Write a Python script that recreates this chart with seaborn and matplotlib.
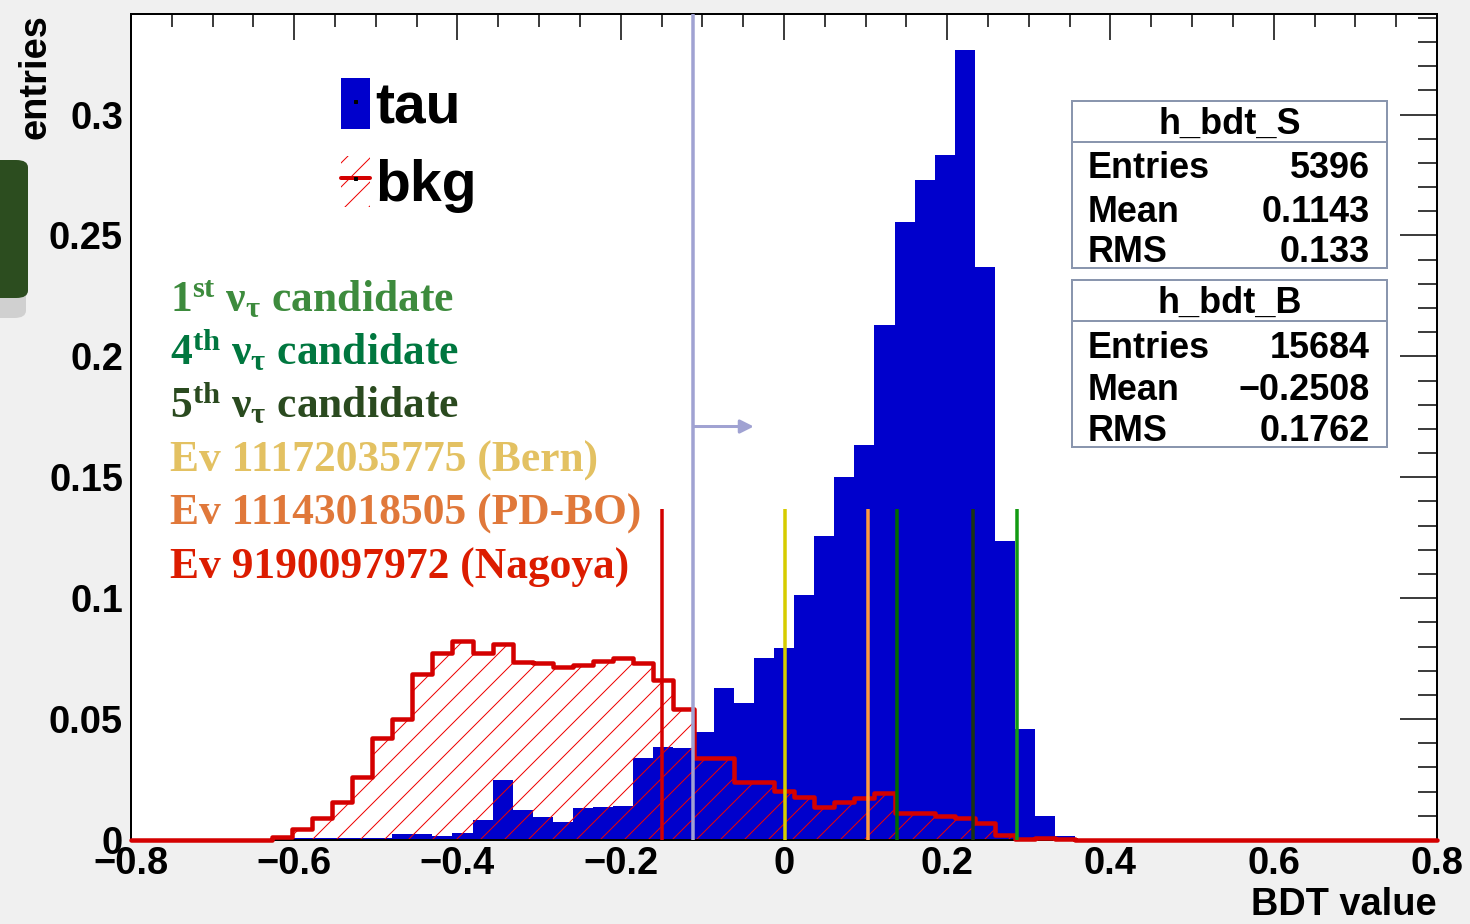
import numpy as np
import pandas as pd
import matplotlib
matplotlib.use("Agg")
import matplotlib.pyplot as plt
import seaborn as sns
from matplotlib.patches import Patch, Rectangle, FancyBboxPatch
from matplotlib.lines import Line2D

# ---------------- data ----------------
x_lo, x_hi, n_bins = -0.8, 0.8, 65

# signal (tau) bin contents, 65 bins on [-0.8, 0.8]
sig = [0, 0, 0, 0, 0, 0, 0,
       0.0008, 0.0008, 0.0008, 0.0008, 0.0008, 0.0008,
       0.0023, 0.0023, 0.0018, 0.0030, 0.0083, 0.0247, 0.0124, 0.0095, 0.0076,
       0.0131, 0.0138, 0.0141, 0.0339, 0.0385, 0.0380, 0.0446, 0.0628, 0.0566,
       0.0753, 0.0792, 0.1014, 0.1258, 0.1502, 0.1632, 0.2128, 0.2555, 0.2730,
       0.2834, 0.3266, 0.2370, 0.1235, 0.0459, 0.0101, 0.0017, 0.0005,
       0, 0, 0, 0, 0, 0, 0, 0, 0, 0, 0, 0, 0, 0, 0, 0, 0]

# background (bkg) bin contents
bkg = [0, 0, 0, 0, 0, 0, 0,
       0.0014, 0.0046, 0.0090, 0.0159, 0.0262, 0.0421, 0.0500, 0.0687, 0.0775,
       0.0825, 0.0775, 0.0810, 0.0738, 0.0731, 0.0717, 0.0723, 0.0742, 0.0752,
       0.0731, 0.0662, 0.0541, 0.0341, 0.0341, 0.0241, 0.0241, 0.0204, 0.0179,
       0.0138, 0.0159, 0.0175, 0.0193, 0.0110, 0.0110, 0.0101, 0.0090, 0.0069,
       0.0021, 0.0003, 0.0010, 0.0003,
       0, 0, 0, 0, 0, 0, 0, 0, 0, 0, 0, 0, 0, 0, 0, 0, 0, 0]

# candidate event BDT values
cand_x = [-0.150, 0.001, 0.103, 0.138, 0.231, 0.286]
cand_colors = ["#d40000", "#d6cc00", "#ff9a3c", "#006a00", "#1b3510", "#139a13"]
cand_top = 0.1368

cut_x = -0.111
arrow_end = -0.037
arrow_y = 0.171

cand_texts = [r"1$^{\mathrm{st}}$ $\mathrm{\nu_{\tau}}$ candidate",
              r"4$^{\mathrm{th}}$ $\mathrm{\nu_{\tau}}$ candidate",
              r"5$^{\mathrm{th}}$ $\mathrm{\nu_{\tau}}$ candidate",
              "Ev 11172035775 (Bern)",
              "Ev 11143018505 (PD-BO)",
              "Ev 9190097972 (Nagoya)"]
text_colors = ["#3d8b3d", "#00773f", "#2a4a1f", "#e3c162", "#e0783a", "#dc1c00"]
text_y = [0.2185, 0.1964, 0.1745, 0.1523, 0.1303, 0.1082]

xticks = [-0.8, -0.6, -0.4, -0.2, 0.0, 0.2, 0.4, 0.6, 0.8]
xtick_labels = ["\u22120.8", "\u22120.6", "\u22120.4", "\u22120.2", "0", "0.2", "0.4", "0.6", "0.8"]
yticks = [0, 0.05, 0.1, 0.15, 0.2, 0.25, 0.3]
ytick_labels = ["0", "0.05", "0.1", "0.15", "0.2", "0.25", "0.3"]

stats_S = [("Entries", "5396"), ("Mean", "0.1143"), ("RMS", "0.133")]
stats_B = [("Entries", "15684"), ("Mean", "\u22120.2508"), ("RMS", "0.1762")]

# ---------------- style ----------------
sns.set_theme(style="white")
plt.rcParams["font.family"] = ["Liberation Sans", "DejaVu Sans"]
plt.rcParams["text.color"] = "black"
plt.rcParams["axes.labelcolor"] = "black"
plt.rcParams["xtick.color"] = "black"
plt.rcParams["ytick.color"] = "black"
plt.rcParams["hatch.linewidth"] = 1.0
plt.rcParams["hatch.color"] = "#ee0000"
plt.rcParams["mathtext.fontset"] = "custom"
plt.rcParams["mathtext.rm"] = "Liberation Serif:bold"
plt.rcParams["mathtext.it"] = "Liberation Serif:italic:bold"
plt.rcParams["mathtext.bf"] = "Liberation Serif:bold"

W, H, DPI = 1470, 924, 72
fig = plt.figure(figsize=(W / DPI, H / DPI), dpi=DPI, facecolor="#f0f0f0")
ax = fig.add_axes([131 / W, 1 - 840 / H, 1306 / W, 826 / H])
ax.set_facecolor("white")

edges = np.linspace(x_lo, x_hi, n_bins + 1)
centers = 0.5 * (edges[:-1] + edges[1:])
bin_list = [float(e) for e in edges]
df = pd.DataFrame({"bdt": centers, "sig": sig, "bkg": bkg})

# signal histogram (filled blue)
sns.histplot(data=df, x="bdt", weights="sig", bins=bin_list, stat="count",
             element="bars", fill=True, color="#0000cc", alpha=1, linewidth=0,
             ax=ax, zorder=1)

# background histogram: hatched fill
n_before = len(ax.collections)
sns.histplot(data=df, x="bdt", weights="bkg", bins=bin_list, stat="count",
             element="step", fill=True, color="#ee0000", alpha=1, linewidth=0,
             ax=ax)
for coll in ax.collections[n_before:]:
    coll.set_facecolor("none")
    coll.set_edgecolor("#ee0000")
    coll.set_hatch("/")
    coll.set_linewidth(0)
    coll.set_zorder(2)

# background outline
n_lines = len(ax.lines)
sns.histplot(data=df, x="bdt", weights="bkg", bins=bin_list, stat="count",
             element="step", fill=False, color="#d40000", linewidth=4.5, ax=ax)
for ln in ax.lines[n_lines:]:
    ln.set_clip_on(False)
    ln.set_zorder(3)

# cut line and arrow
ax.axvline(cut_x, color="#a0a2d2", lw=3.5, zorder=4)
ax.annotate("", xy=(arrow_end, arrow_y), xytext=(cut_x, arrow_y),
            arrowprops=dict(arrowstyle="-|>", color="#a0a2d2", lw=3,
                            mutation_scale=28, shrinkA=0, shrinkB=0), zorder=4)

# candidate lines
ax.vlines(cand_x, 0, cand_top, colors=cand_colors, lw=3.5, zorder=4)

# candidate texts
for t, c, y in zip(cand_texts, text_colors, text_y):
    ax.text(-0.752, y, t, color=c, fontsize=43.5, fontweight="bold",
            family=["Liberation Serif", "DejaVu Serif"], va="baseline", ha="left",
            zorder=5)

# axes limits & ticks
ax.set_xlim(x_lo, x_hi)
ax.set_ylim(0, 0.3416)
ax.set_xticks(xticks)
ax.set_xticklabels(xtick_labels)
ax.set_xticks(np.arange(-0.8, 0.8001, 0.05), minor=True)
ax.set_yticks(yticks)
ax.set_yticklabels(ytick_labels)
ax.set_yticks(np.arange(0, 0.3401, 0.01), minor=True)
ax.tick_params(axis="both", which="both", direction="in", top=True, right=True,
               color="black", labelcolor="black", width=1.5)
ax.tick_params(axis="x", which="major", length=26, pad=6, labelsize=38)
ax.tick_params(axis="x", which="minor", length=13)
ax.tick_params(axis="y", which="major", length=37, pad=8, labelsize=38)
ax.tick_params(axis="y", which="minor", length=19)
for lab in ax.get_xticklabels() + ax.get_yticklabels():
    lab.set_fontweight("bold")
for s in ax.spines.values():
    s.set_color("black")
    s.set_linewidth(2)
    s.set_zorder(2.5)

ax.set_xlabel("BDT value", fontsize=38, fontweight="bold", loc="right", color="black")
ax.xaxis.set_label_coords(1.0, -0.057)
ax.set_ylabel("entries", fontsize=38, fontweight="bold", loc="top", color="black")
ax.yaxis.set_label_coords(-0.059, 1.0)

# legend
h_tau = (Patch(facecolor="#0000cc", edgecolor="none"),
         Line2D([], [], ls="none", marker="s", ms=3, color="black"))
h_bkg = (Patch(facecolor="white", edgecolor="#ee0000", hatch="/", lw=0),
         Line2D([], [], color="#d40000", lw=4, marker="s", ms=3,
                markerfacecolor="black", markeredgecolor="black"))
leg = ax.legend([h_tau, h_bkg], ["tau", "bkg"], loc="upper left",
                bbox_to_anchor=(0.1608, 0.9225), frameon=False,
                prop=dict(size=57, weight="bold"), handlelength=0.5,
                handleheight=1.0, handletextpad=0.1, labelspacing=0.36,
                borderaxespad=0, borderpad=0, labelcolor="black")


# stats boxes
def stats_box(y0, y1, ysep, title, rows, ys):
    fig.add_artist(Rectangle((1072 / W, 1 - y1 / H), 315 / W, (y1 - y0) / H,
                             transform=fig.transFigure, facecolor="white",
                             edgecolor="#8a96ae", lw=2, zorder=10))
    fig.add_artist(Line2D([1072 / W, 1387 / W], [1 - ysep / H] * 2,
                          transform=fig.transFigure, color="#8a96ae", lw=2,
                          zorder=11))
    fig.text(1229.5 / W, 1 - ((y0 + ysep) / 2 + 3) / H, title, ha="center",
             va="center", fontsize=36, fontweight="bold", color="black", zorder=12)
    for (k, v), yy in zip(rows, ys):
        fig.text(1088 / W, 1 - (yy + 4) / H, k, ha="left", va="center",
                 fontsize=36, fontweight="bold", color="black", zorder=12)
        fig.text(1370 / W, 1 - (yy + 4) / H, v, ha="right", va="center",
                 fontsize=36, fontweight="bold", color="black", zorder=12)


stats_box(101, 268, 142, "h_bdt_S", stats_S, [165, 208, 249])
stats_box(280, 447, 321, "h_bdt_B", stats_B, [344, 386, 428])

# cropped artefact at the left edge
fig.add_artist(FancyBboxPatch((-20 / W, 1 - 318 / H), 46 / W, 150 / H,
                              boxstyle="round,pad=0,rounding_size=0.008",
                              transform=fig.transFigure, facecolor="#d0d0d0",
                              edgecolor="none", zorder=0.5))
fig.add_artist(FancyBboxPatch((-20 / W, 1 - 298 / H), 48 / W, 138 / H,
                              boxstyle="round,pad=0,rounding_size=0.008",
                              transform=fig.transFigure, facecolor="#2c4d1f",
                              edgecolor="none", zorder=1))

fig.savefig("out.png", dpi=DPI, facecolor=fig.get_facecolor())
